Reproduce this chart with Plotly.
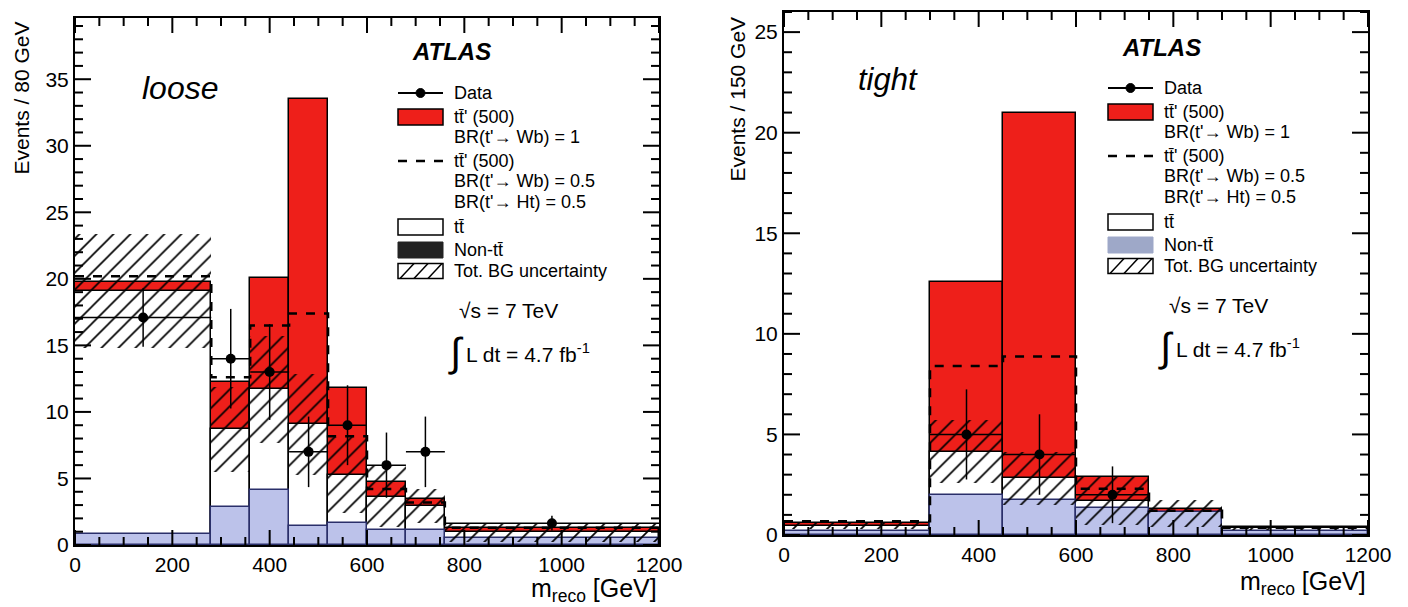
import plotly.graph_objects as go

W, H = 1408, 607

# ---------------- data: loose selection ----------------
loose_edges = [0, 280, 360, 440, 520, 600, 680, 760, 1200]
loose_nontt = [0.80, 2.87, 4.16, 1.45, 1.65, 1.14, 1.14, 0.55]
loose_bg = [19.1, 8.7, 11.7, 9.06, 5.28, 3.63, 2.92, 0.95]
loose_sig = [19.75, 12.26, 20.05, 33.5, 11.8, 4.75, 3.43, 1.25]
loose_sig_half = [20.2, 12.6, 16.5, 17.4, 8.17, 4.2, 3.2, 1.3]
loose_unc = [4.3, 3.2, 4.0, 3.8, 2.85, 2.3, 1.3, 0.7]
loose_data = [17.1, 14, 13, 7, 9, 6, 7, 1.64]
loose_data_err = [2.2, 3.74, 3.6, 2.65, 3.0, 2.45, 2.65, 0.55]

# ---------------- data: tight selection ----------------
tight_edges = [0, 300, 450, 600, 750, 900, 1200]
tight_nontt = [0.19, 2.0, 1.72, 1.35, 1.14, 0.2]
tight_bg = [0.44, 4.15, 2.81, 1.70, 1.07, 0.33]
tight_sig = [0.62, 12.6, 20.97, 2.86, 1.30, 0.38]
tight_sig_half = [0.68, 8.4, 8.88, 2.3, 1.2, 0.36]
tight_unc = [0.15, 1.55, 1.3, 1.2, 0.65, 0.1]
tight_data = [None, 5, 4, 2, None, None]
tight_data_err = [None, 2.24, 2.0, 1.41, None, None]

RED = "#ee1f1a"
BLUE = "#bcc2ea"
BLUE_LINE = "#2a2f6a"
FONT = "Liberation Sans, Arial, Helvetica, sans-serif"

L_X0, L_X1, L_Y0, L_Y1 = 75, 659, 18, 545
R_X0, R_X1, R_Y0, R_Y1 = 784, 1368, 12, 535
L_YMAX, R_YMAX = 39.6, 26
XMAX = 1200

fig = go.Figure()


def add_panel(edges, nontt, bg, sig, sig_half, unc, data, data_err, xa, ya):
    centers = [(a + b) / 2 for a, b in zip(edges[:-1], edges[1:])]
    widths = [b - a for a, b in zip(edges[:-1], edges[1:])]
    common = dict(x=centers, width=widths, xaxis=xa, yaxis=ya, showlegend=False,
                  hoverinfo="skip")
    fig.add_trace(go.Bar(y=sig, base=[0] * len(sig),
                         marker=dict(color=RED, line=dict(color="black", width=1.5)), **common))
    fig.add_trace(go.Bar(y=bg, base=[0] * len(bg),
                         marker=dict(color="white", line=dict(color="black", width=1.5)), **common))
    fig.add_trace(go.Bar(y=nontt, base=[0] * len(nontt),
                         marker=dict(color=BLUE, line=dict(color=BLUE_LINE, width=1.5)), **common))
    fig.add_trace(go.Bar(y=[2 * u for u in unc], base=[b - u for b, u in zip(bg, unc)],
                         marker=dict(color="rgba(0,0,0,0)", line=dict(width=0),
                                     pattern=dict(shape="/", fgcolor="black", fgopacity=1,
                                                  bgcolor="rgba(0,0,0,0)", size=12,
                                                  solidity=0.14, fillmode="overlay")),
                         **common))
    fig.add_trace(go.Scatter(x=edges, y=sig_half + [sig_half[-1]], mode="lines",
                             line=dict(shape="hv", color="black", width=2.5, dash="dash"),
                             xaxis=xa, yaxis=ya, showlegend=False, hoverinfo="skip"))
    dx = [c for c, d in zip(centers, data) if d is not None]
    dy = [d for d in data if d is not None]
    de = [e for e in data_err if e is not None]
    dw = [w / 2 for w, d in zip(widths, data) if d is not None]
    fig.add_trace(go.Scatter(x=dx, y=dy, mode="markers",
                             marker=dict(color="black", size=10),
                             error_y=dict(type="data", array=de, thickness=1.5, width=0, color="black"),
                             error_x=dict(type="data", array=dw, thickness=1.5, width=0, color="black"),
                             xaxis=xa, yaxis=ya, showlegend=False))


add_panel(loose_edges, loose_nontt, loose_bg, loose_sig, loose_sig_half, loose_unc,
          loose_data, loose_data_err, "x", "y")
add_panel(tight_edges, tight_nontt, tight_bg, tight_sig, tight_sig_half, tight_unc,
          tight_data, tight_data_err, "x2", "y2")


def X(p):
    return p / W


def Y(p):
    return 1 - p / H


TICKC = "rgba(0,0,0,0)"
xcommon = dict(range=[0, XMAX], tickmode="linear", tick0=0, dtick=200,
               showline=True, linecolor="black", linewidth=2, mirror=True,
               ticks="inside", ticklen=15, tickwidth=2, tickcolor=TICKC,
               showgrid=False, zeroline=False, automargin=False, layer="above traces",
               tickfont=dict(family=FONT, size=21, color="black"))
ycommon = dict(showline=True, linecolor="black", linewidth=2, mirror=True,
               ticks="inside", ticklen=16, tickwidth=2, tickcolor=TICKC,
               tickmode="linear", dtick=5, tick0=0,
               showgrid=False, zeroline=False, automargin=False, layer="above traces",
               tickfont=dict(family=FONT, size=21, color="black"))

fig.update_layout(
    width=W, height=H, margin=dict(l=0, r=0, t=0, b=0, pad=0),
    paper_bgcolor="white", plot_bgcolor="white", barmode="overlay", bargap=0,
    xaxis=dict(domain=[X(L_X0), X(L_X1)], anchor="y", **xcommon),
    yaxis=dict(domain=[Y(L_Y1), Y(L_Y0)], anchor="x", range=[0, L_YMAX], **ycommon),
    xaxis2=dict(domain=[X(R_X0), X(R_X1)], anchor="y2", **xcommon),
    yaxis2=dict(domain=[Y(R_Y1), Y(R_Y0)], anchor="x2", range=[0, R_YMAX], **ycommon),
    font=dict(family=FONT, color="black"),
)

annotations = []
shapes = []


def text(x, y, s, size, xanchor="left", yanchor="middle", angle=0):
    annotations.append(dict(x=X(x), y=Y(y), xref="paper", yref="paper", text=s,
                            showarrow=False, xanchor=xanchor, yanchor=yanchor,
                            textangle=angle, font=dict(family=FONT, size=size, color="black")))


def rect(x0, y0, x1, y1, fill, line="black", lw=1.5):
    shapes.append(dict(type="rect", xref="paper", yref="paper", x0=X(x0), x1=X(x1),
                       y0=Y(y1), y1=Y(y0), fillcolor=fill, line=dict(color=line, width=lw)))


def seg(x0, y0, x1, y1, lw=2, dash="solid"):
    shapes.append(dict(type="line", xref="paper", yref="paper", x0=X(x0), x1=X(x1),
                       y0=Y(y0), y1=Y(y1), line=dict(color="black", width=lw, dash=dash)))


def add_ticks(px0, px1, py0, py1, ymax):
    # inside ATLAS-style ticks on all four frame sides, placed via the axis ranges
    for v in range(0, XMAX + 1, 50):
        ln = 15 if v % 200 == 0 else 8
        xp = px0 + v / XMAX * (px1 - px0)
        seg(xp, py1, xp, py1 - ln, lw=2)
        seg(xp, py0, xp, py0 + ln, lw=2)
    v = 0
    while v <= ymax:
        ln = 16 if v % 5 == 0 else 8
        yp = py1 - v / ymax * (py1 - py0)
        seg(px0, yp, px0 + ln, yp, lw=2)
        seg(px1, yp, px1 - ln, yp, lw=2)
        v += 1


add_ticks(L_X0, L_X1, L_Y0, L_Y1, L_YMAX)
add_ticks(R_X0, R_X1, R_Y0, R_Y1, R_YMAX)

TTP = "tt\u0304'"
LS = 18


def legend(sx, base, nontt_color, atlas_xy, label_xy, label, label_size, ylabel_xy, ylabel,
           xtitle_xy):
    tx = sx + 54
    text(atlas_xy[0], atlas_xy[1], "<b><i>ATLAS</i></b>", 24)
    text(label_xy[0], label_xy[1], "<i>" + label + "</i>", label_size)
    yc = base
    seg(sx, yc, sx + 45, yc, lw=2)
    shapes.append(dict(type="circle", xref="paper", yref="paper", x0=X(sx + 18), x1=X(sx + 27),
                       y0=Y(yc + 4.5), y1=Y(yc - 4.5), fillcolor="black",
                       line=dict(color="black", width=1)))
    text(tx, yc, "Data", LS)
    yc = base + 24
    rect(sx, yc - 8, sx + 45, yc + 8, RED)
    text(tx, yc, TTP + " (500)", LS)
    text(tx, base + 44, "BR(t'\u2192 Wb) = 1", LS)
    yc = base + 68
    seg(sx, yc, sx + 45, yc, lw=2.5, dash="dash")
    text(tx, yc, TTP + " (500)", LS)
    text(tx, base + 88, "BR(t'\u2192 Wb) = 0.5", LS)
    text(tx, base + 109, "BR(t'\u2192 Ht) = 0.5", LS)
    yc = base + 134
    rect(sx, yc - 8, sx + 45, yc + 8, "white")
    text(tx, yc, "tt\u0304", LS)
    yc = base + 157
    rect(sx, yc - 8, sx + 45, yc + 8, nontt_color, line=nontt_color, lw=1)
    text(tx, yc, "Non-tt\u0304", LS)
    yc = base + 178
    rect(sx, yc - 7.5, sx + 45, yc + 7.5, "white")
    for k in range(3):
        seg(sx + 2 + 14 * k, yc + 7.5, sx + 16 + 14 * k, yc - 7.5, lw=1.5)
    text(tx, yc, "Tot. BG uncertainty", LS)
    text(sx + 59, base + 217, "\u221As = 7 TeV", 21)
    text(sx + 48, base + 259, "\u222B", 40)
    text(sx + 66, base + 260, "L dt = 4.7 fb<sup>-1</sup>", 21)
    text(ylabel_xy[0], ylabel_xy[1], ylabel, 21, xanchor="center", yanchor="top", angle=-90)
    text(xtitle_xy[0], xtitle_xy[1], "m<sub>reco</sub> [GeV]", 25, xanchor="right")


legend(398, 93, "#222222", (410, 52), (140, 88), "loose", 32, (21, 20), "Events / 80 GeV",
       (659, 590))
legend(1108, 88, "#9ea8c8", (1120, 47), (856, 80), "tight", 31, (737, 15), "Events / 150 GeV",
       (1368, 583))

fig.update_layout(annotations=annotations, shapes=shapes)
fig.write_html("out.html")
